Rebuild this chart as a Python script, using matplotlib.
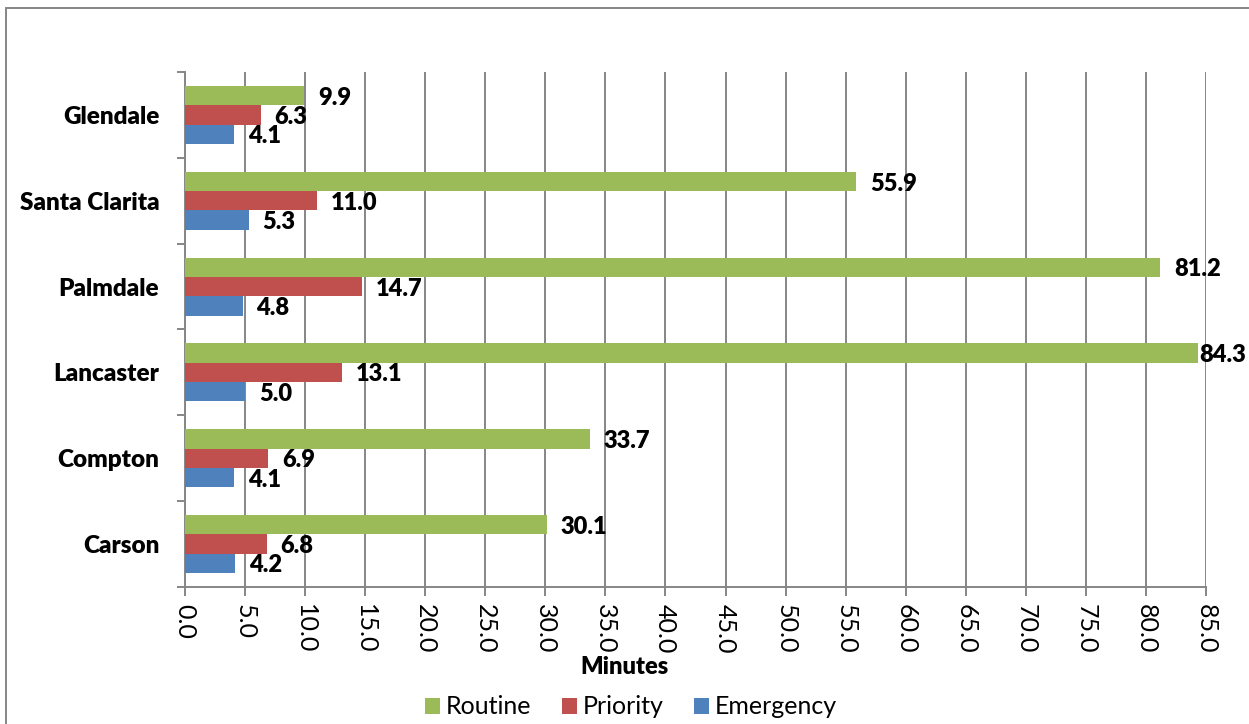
import matplotlib
matplotlib.use("Agg")
import matplotlib.pyplot as plt
from matplotlib.patches import Rectangle
import numpy as np

plt.rcParams['font.family'] = ['Lato', 'DejaVu Sans']

cities = ["Carson", "Compton", "Lancaster", "Palmdale", "Santa Clarita", "Glendale"]
routine = [30.1, 33.7, 84.3, 81.2, 55.9, 9.9]
priority = [6.8, 6.9, 13.1, 14.7, 11.0, 6.3]
emergency = [4.2, 4.1, 5.0, 4.8, 5.3, 4.1]
series_names = ["Routine", "Priority", "Emergency"]
colors = ["#9BBB59", "#C0504D", "#4F81BD"]
x_ticks = np.arange(0, 85.1, 5)

W, H = 1249, 724
fig = plt.figure(figsize=(W / 100, H / 100), dpi=100)
ax = fig.add_axes([185 / W, 1 - 587 / H, (1206 - 185) / W, (587 - 72) / H])

grid_c = "#868686"
bh = 0.225
y = np.arange(len(cities))
series = [routine, priority, emergency]
offsets = [bh, 0, -bh]
xmax = 85
heavy = "heavy"

for vals, off, col, name in zip(series, offsets, colors, series_names):
    ax.barh(y + off, vals, height=bh, color=col, label=name, zorder=3)
    for yy, v in zip(y + off, vals):
        # labels near the right edge sit right against the bar end
        dx = 1 if v > 0.97 * xmax else 10
        ax.annotate(f"{v:.1f}", xy=(v, yy), xytext=(dx, -1.5),
                    textcoords="offset points", va="center", ha="left",
                    fontsize=17, fontweight=heavy, color="black",
                    annotation_clip=False, zorder=4)

ax.set_xlim(0, xmax)
ax.set_ylim(-0.5, len(cities) - 0.5)
ax.set_xticks(x_ticks)
ax.set_xticklabels([f"{t:.1f}" for t in x_ticks], rotation=270, fontsize=18)
ax.set_yticks(y)
ax.set_yticklabels(cities, fontsize=17.5, fontweight=heavy)
ax.set_yticks(np.arange(-0.5, len(cities), 1), minor=True)
ax.tick_params(axis="y", which="major", length=0, pad=18.5)
ax.tick_params(axis="y", which="minor", length=6, width=1.4, color=grid_c, direction="out")
ax.tick_params(axis="x", length=6.5, width=1.4, color=grid_c, direction="out", pad=6)

ax.xaxis.grid(True, color=grid_c, linewidth=1.4, zorder=0)
ax.set_axisbelow(True)
for s in ["top", "right"]:
    ax.spines[s].set_visible(False)
for s in ["left", "bottom"]:
    ax.spines[s].set_color(grid_c)
    ax.spines[s].set_linewidth(1.4)

fig.text(624 / W, 1 - 667 / H, "Minutes", ha="center", va="center",
         fontsize=17, fontweight=heavy)

handles, labels = ax.get_legend_handles_labels()
fig.legend(handles, labels, loc="center", bbox_to_anchor=(631 / W, 1 - 707 / H),
           ncol=3, frameon=False, fontsize=18, handlelength=0.6,
           handleheight=0.6, handletextpad=0.25, columnspacing=1.2)

# outer chart frame
fig.patches.append(Rectangle((6 / W, -0.1), 1.2, 1 - 8 / H + 0.1,
                             transform=fig.transFigure, fill=False,
                             edgecolor=grid_c, linewidth=1.4))

fig.savefig("out.png", dpi=100)
